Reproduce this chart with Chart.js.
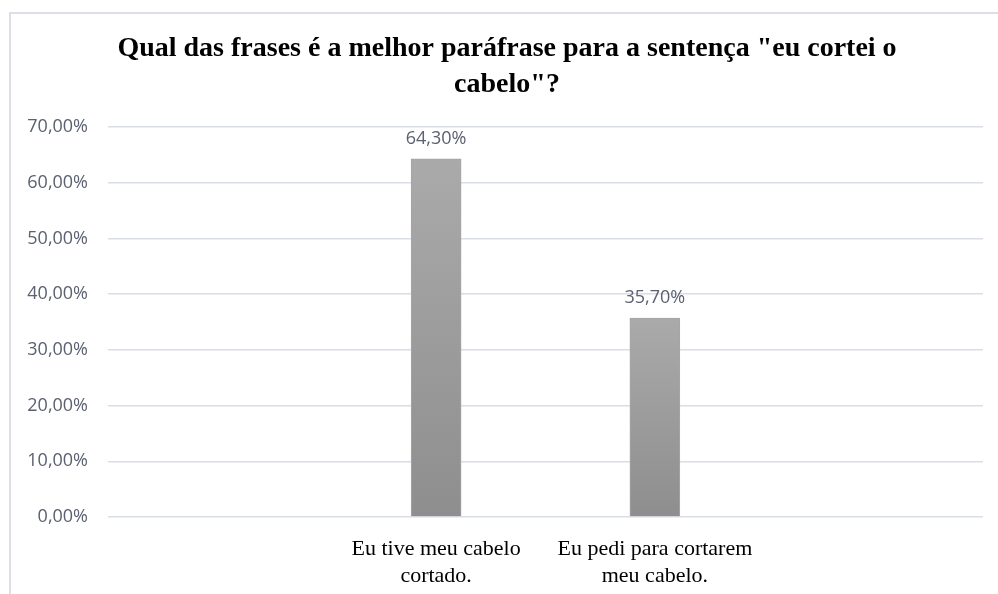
<!DOCTYPE html>
<html>
<head>
<meta charset="utf-8">
<script src="https://cdn.jsdelivr.net/npm/chart.js@4"></script>
<style>
    body { margin: 0; background: #ffffff; }
    #wrap { position: absolute; left: 0; top: 0; width: 998px; height: 594px; }
</style>
</head>
<body>
<div id="wrap"><canvas id="barChart"></canvas></div>
<script>
// categories (the empty ones at both ends are blank slots of the original sheet)
const categories = ['', ['Eu tive meu cabelo', 'cortado.'], ['Eu pedi para cortarem', 'meu cabelo.'], ''];
const shares = [null, 0.643, 0.357, null];
const shareLabels = ['', '64,30%', '35,70%', ''];
const titleLines = ['Qual das frases é a melhor paráfrase para a sentença "eu cortei o', 'cabelo"?'];

function pct(v) {
    return (v * 100).toFixed(2).replace('.', ',') + '%';
}

// light frame around the chart, like the sheet object border
const framePlugin = {
    id: 'frame',
    beforeDraw(chart) {
        const ctx = chart.ctx;
        ctx.save();
        ctx.fillStyle = '#ffffff';
        ctx.fillRect(0, 0, chart.width, chart.height);
        ctx.strokeStyle = '#dcdfe7';
        ctx.lineWidth = 2;
        ctx.beginPath();
        ctx.moveTo(10, chart.height);
        ctx.lineTo(10, 13);
        ctx.lineTo(chart.width, 13);
        ctx.stroke();
        ctx.restore();
    }
};

// title drawn by hand so it can sit a bit right of the canvas centre, as in the original
const titlePlugin = {
    id: 'sheetTitle',
    afterDraw(chart) {
        const ctx = chart.ctx;
        ctx.save();
        ctx.font = 'bold 28px "Liberation Serif", "Times New Roman", serif';
        ctx.fillStyle = '#000000';
        ctx.textAlign = 'center';
        ctx.textBaseline = 'middle';
        titleLines.forEach((line, i) => {
            ctx.fillText(line, 507, 49 + i * 36);
        });
        ctx.restore();
    }
};

// value labels above each bar
const valueLabels = {
    id: 'valueLabels',
    afterDatasetsDraw(chart) {
        const ctx = chart.ctx;
        const meta = chart.getDatasetMeta(0);
        ctx.save();
        ctx.font = '18px "Open Sans"';
        ctx.fillStyle = '#5b6170';
        ctx.textAlign = 'center';
        ctx.textBaseline = 'alphabetic';
        meta.data.forEach((bar, i) => {
            if (shares[i] == null) return;
            ctx.fillText(shareLabels[i], bar.x, bar.y - 15);
        });
        ctx.restore();
    }
};

function barFill(context) {
    const chart = context.chart;
    const v = context.raw;
    if (!chart.chartArea || v == null) return '#9b9b9b';
    const y = chart.scales.y;
    const top = y.getPixelForValue(v);
    const bottom = y.getPixelForValue(0);
    const g = chart.ctx.createLinearGradient(0, top, 0, bottom);
    g.addColorStop(0, '#aaaaaa');
    g.addColorStop(1, '#8e8e8e');
    return g;
}

const config = {
    type: 'bar',
    data: {
        labels: categories,
        datasets: [{
            data: shares,
            backgroundColor: barFill,
            borderColor: '#a5a5a5',
            borderWidth: 1,
            barThickness: 50,
        }],
    },
    options: {
        responsive: true,
        maintainAspectRatio: false,
        animation: false,
        layout: {
            padding: { left: 0, right: 15, top: 127, bottom: 8 }
        },
        plugins: {
            legend: { display: false },
            tooltip: { enabled: false },
            title: { display: false },
        },
        scales: {
            x: {
                afterFit(scale) { scale.height = 69; },
                grid: { display: false, drawTicks: false },
                border: { display: false },
                ticks: {
                    color: '#000000',
                    maxRotation: 0,
                    autoSkip: false,
                    padding: 19,
                    font: {
                        family: '"Liberation Serif", "Times New Roman", serif',
                        size: 22,
                        lineHeight: 1.23,
                    },
                },
            },
            y: {
                min: 0,
                max: 0.7,
                afterFit(scale) { scale.width = 108; },
                grid: {
                    color: '#d9dde7',
                    lineWidth: 1.5,
                    drawTicks: false,
                },
                border: { display: false },
                ticks: {
                    stepSize: 0.1,
                    padding: 20,
                    color: '#5b6170',
                    font: { family: '"Open Sans"', size: 18 },
                    callback: v => pct(v),
                },
            },
        },
    },
    plugins: [framePlugin, valueLabels, titlePlugin],
};

new Chart(document.getElementById('barChart'), config);
</script>
</body>
</html>
